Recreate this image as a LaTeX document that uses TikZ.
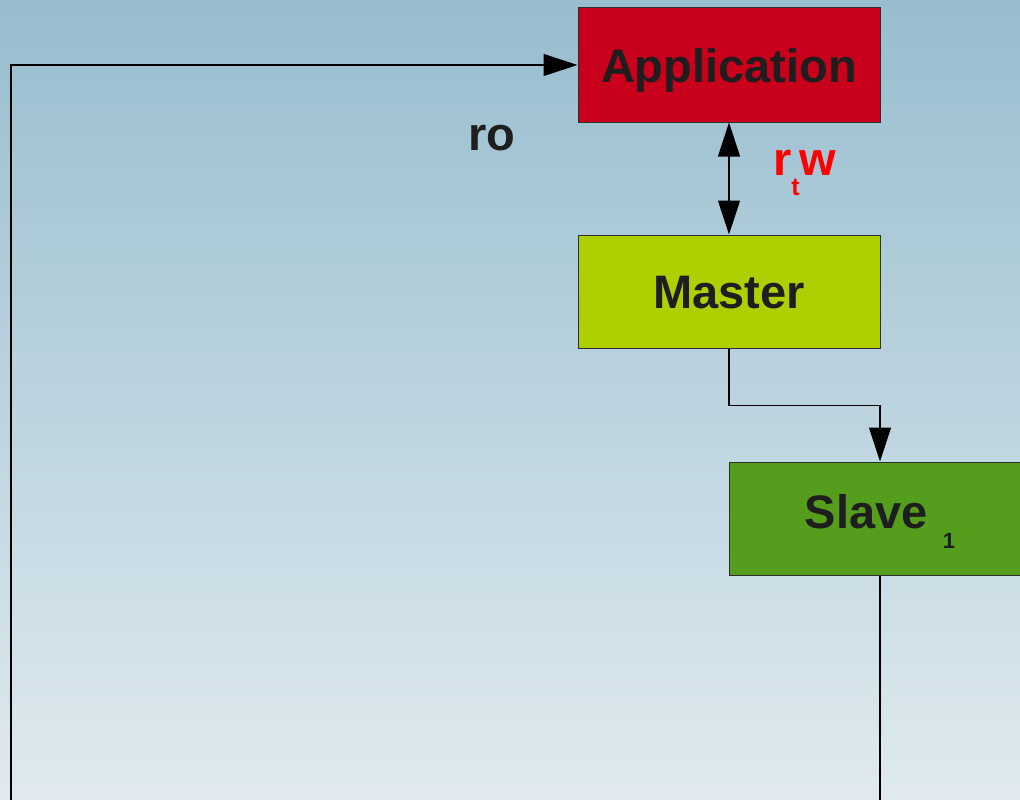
\documentclass[tikz,border=0pt]{standalone}
\usepackage{fontspec}
\setmainfont{Liberation Sans}
\usetikzlibrary{arrows.meta}
\definecolor{bgtop}{RGB}{151,189,206}
\definecolor{bgbot}{RGB}{224,234,239}
\definecolor{appred}{RGB}{200,0,27}
\definecolor{mastergreen}{RGB}{175,208,0}
\definecolor{slavegreen}{RGB}{85,157,29}
\definecolor{inkdark}{RGB}{30,30,30}
\definecolor{borderdark}{RGB}{45,45,45}
\tikzset{
  boxnode/.style={draw=borderdark, line width=1pt, minimum width=302pt, inner sep=0pt,
    text=inkdark, font=\fontsize{47}{56}\selectfont\bfseries, text height=34pt, text depth=0pt},
  lbl/.style={font=\fontsize{47}{56}\selectfont\bfseries, text=inkdark, inner sep=0pt},
  conn/.style={draw=black, line width=1.1pt},
  tip/.style={-{Triangle[length=34pt,width=22pt]}},
  dtip/.style={{Triangle[length=34pt,width=22pt]}-{Triangle[length=34pt,width=22pt]}}
}
\begin{document}
\begin{tikzpicture}[x=1pt,y=1pt]
\useasboundingbox (0,0) rectangle (1020,-800);
\clip (0,0) rectangle (1020,-800);
\shade[top color=bgtop, bottom color=bgbot, middle color={bgtop!50!bgbot}] (0,0) rectangle (1020,-800);

\node[boxnode, fill=appred, minimum height=114pt] (app) at (729,-65) {Application};
\node[boxnode, fill=mastergreen, minimum height=113pt] (master) at (729,-291.5) {Master};
\node[boxnode, fill=slavegreen, minimum height=113pt, text depth=15pt] (slave) at (880,-518.5)
  {Slave\hspace{15pt}\raisebox{-20pt}{\fontsize{22}{26}\selectfont 1}};

\node[lbl, anchor=base] (ro) at (492,-150) {ro};
\node[lbl, text=red, anchor=base west] (rtw) at (773,-175)
  {r\raisebox{-20pt}{\fontsize{25}{30}\selectfont t}w};

\coordinate (leftbottom) at (11,-810);
\coordinate (slavebottom) at (880,-810);

\draw[conn, dtip] (app) -- (master);
\draw[conn, tip] (master.south) -- ++(0,-57) -| (slave.north);
\draw[conn] (slave.south) -- (slavebottom);
\draw[conn, tip] (leftbottom) |- (app.west);
\end{tikzpicture}
\end{document}
